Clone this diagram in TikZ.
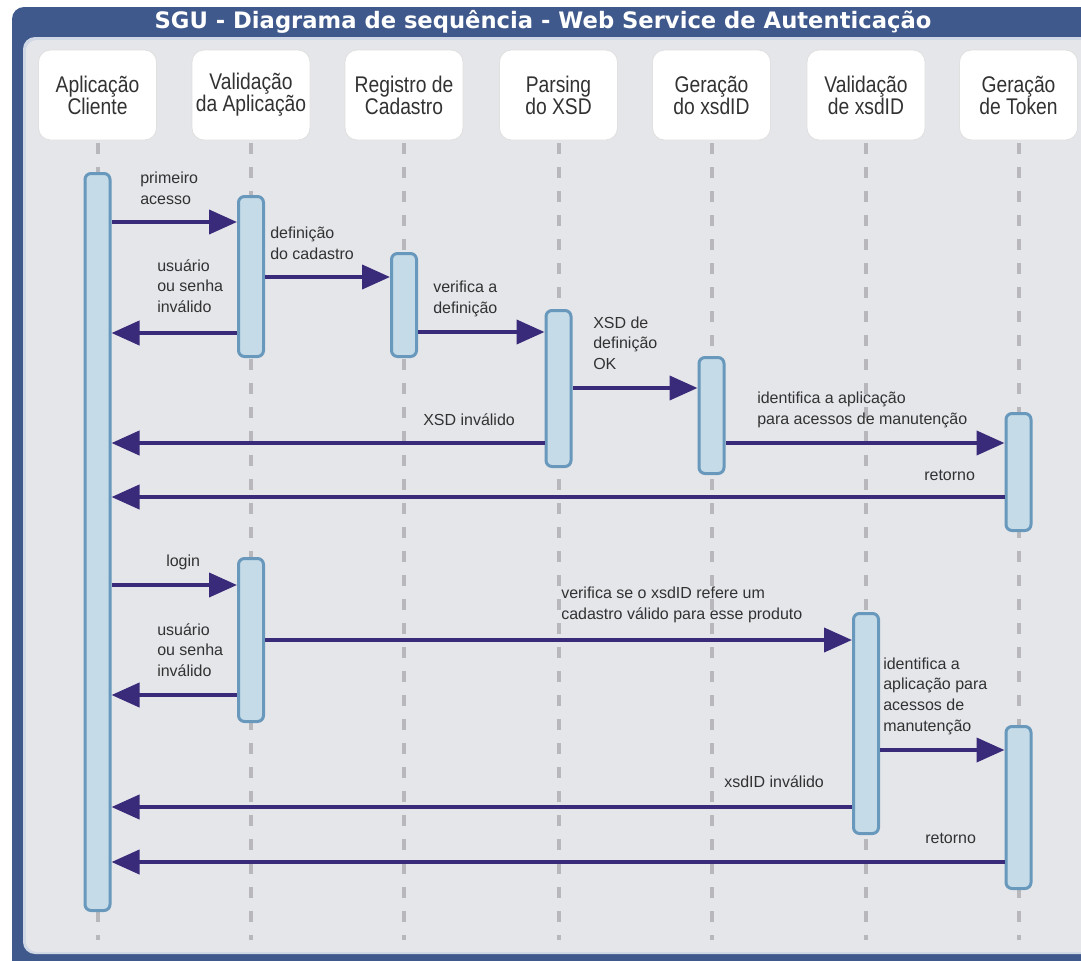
\documentclass[tikz,border=0pt]{standalone}
\usepackage{fontspec}
\setmainfont{Liberation Sans}
\newfontfamily\headfont[FakeStretch=0.85]{Liberation Sans}
\newfontfamily\titlefont{DejaVu Sans}
\usetikzlibrary{arrows.meta, positioning}
\definecolor{frameblue}{RGB}{63,89,140}
\definecolor{panelgray}{RGB}{229,230,234}
\definecolor{rimblue}{RGB}{208,216,230}
\definecolor{msgpurple}{RGB}{58,42,122}
\definecolor{barfill}{RGB}{197,219,232}
\definecolor{barline}{RGB}{104,152,187}
\definecolor{lifegray}{RGB}{184,184,188}
\definecolor{txtgray}{RGB}{50,50,50}

\begin{document}
\begin{tikzpicture}[x=0.75pt,y=-0.75pt]
\tikzstyle{head}=[draw=black!12, fill=white, rounded corners=9pt, minimum width=88.5pt, minimum height=67.5pt, align=center, inner sep=0pt, font=\headfont\fontsize{17}{16.5}\selectfont, text=txtgray, line width=0.6pt]
\tikzstyle{bar}=[draw=barline, fill=barfill, line width=2.25pt, rounded corners=4.5pt, minimum width=18.75pt, inner sep=0pt]
\tikzstyle{life}=[draw=lifegray, line width=3pt, dash pattern=on 8pt off 10pt]
\tikzstyle{msg}=[draw=msgpurple, line width=3pt, -{Triangle[length=21pt,width=18pt]}]
\tikzstyle{lbl}=[anchor=west, align=left, inner sep=0pt, font=\fontsize{12}{15.5}\selectfont, text=txtgray]
\useasboundingbox (0,0) rectangle (1081,960);
\fill[white] (0,0) rectangle (1081,960);
\begin{scope}
\clip (0,0) rectangle (1081,960);
\fill[frameblue, rounded corners=9pt] (12,7) rectangle (1120,1000);
\fill[rimblue, rounded corners=9pt] (23,37) rectangle (1120,954);
\fill[panelgray, rounded corners=8pt] (26,40) rectangle (1120,952);
\end{scope}
\node[font=\titlefont\bfseries\fontsize{17}{20}\selectfont, text=white] (title) at (543,22) {SGU - Diagrama de sequência - Web Service de Autenticação};

\node[head] (cliente) at (97.5,95) {Aplicação\\Cliente};
\node[head] (valapp) at (251,95) {Validação\\da Aplicação};
\node[head] (registro) at (404,95) {Registro de\\Cadastro};
\node[head] (parsing) at (558.5,95) {Parsing\\do XSD};
\node[head] (geraid) at (711.5,95) {Geração\\do xsdID};
\node[head] (validid) at (866,95) {Validação\\de xsdID};
\node[head] (token) at (1018.5,95) {Geração\\de Token};
\foreach \n in {cliente,valapp,registro,parsing,geraid,validid,token}
  \draw[life] ([yshift=-2pt]\n.south) -- (\n.south |- 0,940);

\node[bar, minimum height=552.75pt] (cliente1) at (97.5,542) {};
\node[bar, minimum height=120pt] (valapp1) at (251,276.5) {};
\node[bar, minimum height=77.25pt] (registro1) at (404,305) {};
\node[bar, minimum height=117pt] (parsing1) at (558.5,388.5) {};
\node[bar, minimum height=87pt] (geraid1) at (711.5,415.5) {};
\node[bar, minimum height=87.75pt] (token1) at (1018.5,472) {};
\node[bar, minimum height=122.25pt] (valapp2) at (251,640) {};
\node[bar, minimum height=165pt] (validid1) at (866,723.5) {};
\node[bar, minimum height=121.5pt] (token2) at (1018.5,807.5) {};

\draw[msg] (cliente1.east |- 0,222) -- (valapp1.west |- 0,222);
\node[lbl] (l1) at (140,188) {primeiro\\acesso};
\draw[msg] (valapp1.east |- 0,277) -- (registro1.west |- 0,277);
\node[lbl] (l2) at (270,243) {definição\\do cadastro};
\draw[msg] (valapp1.west |- 0,333) -- (cliente1.east |- 0,333);
\node[lbl] (l3) at (157,286) {usuário\\ou senha\\inválido};
\draw[msg] (registro1.east |- 0,332) -- (parsing1.west |- 0,332);
\node[lbl] (l4) at (433,299) {verifica a\\definição};
\draw[msg] (parsing1.east |- 0,388) -- (geraid1.west |- 0,388);
\node[lbl] (l5) at (593,343) {XSD de\\definição\\OK};
\draw[msg] (parsing1.west |- 0,443) -- (cliente1.east |- 0,443);
\node[lbl] (l6) at (423,420) {XSD inválido};
\draw[msg] (geraid1.east |- 0,443) -- (token1.west |- 0,443);
\node[lbl] (l7) at (757,410) {identifica a aplicação\\para acessos de manutenção};
\draw[msg] (token1.west |- 0,497) -- (cliente1.east |- 0,497);
\node[lbl] (l8) at (924,475) {retorno};

\draw[msg] (cliente1.east |- 0,585) -- (valapp2.west |- 0,585);
\node[lbl] (l9) at (166,562) {login};
\draw[msg] (valapp2.east |- 0,640) -- (validid1.west |- 0,640);
\node[lbl] (l10) at (561,605) {verifica se o xsdID refere um\\cadastro válido para esse produto};
\draw[msg] (valapp2.west |- 0,695) -- (cliente1.east |- 0,695);
\node[lbl] (l11) at (157,650) {usuário\\ou senha\\inválido};
\draw[msg] (validid1.east |- 0,750) -- (token2.west |- 0,750);
\node[lbl] (l12) at (883,696) {identifica a\\aplicação para\\acessos de\\manutenção};
\draw[msg] (validid1.west |- 0,807) -- (cliente1.east |- 0,807);
\node[lbl] (l13) at (724,782) {xsdID inválido};
\draw[msg] (token2.west |- 0,862) -- (cliente1.east |- 0,862);
\node[lbl] (l14) at (925,838) {retorno};
\end{tikzpicture}
\end{document}
